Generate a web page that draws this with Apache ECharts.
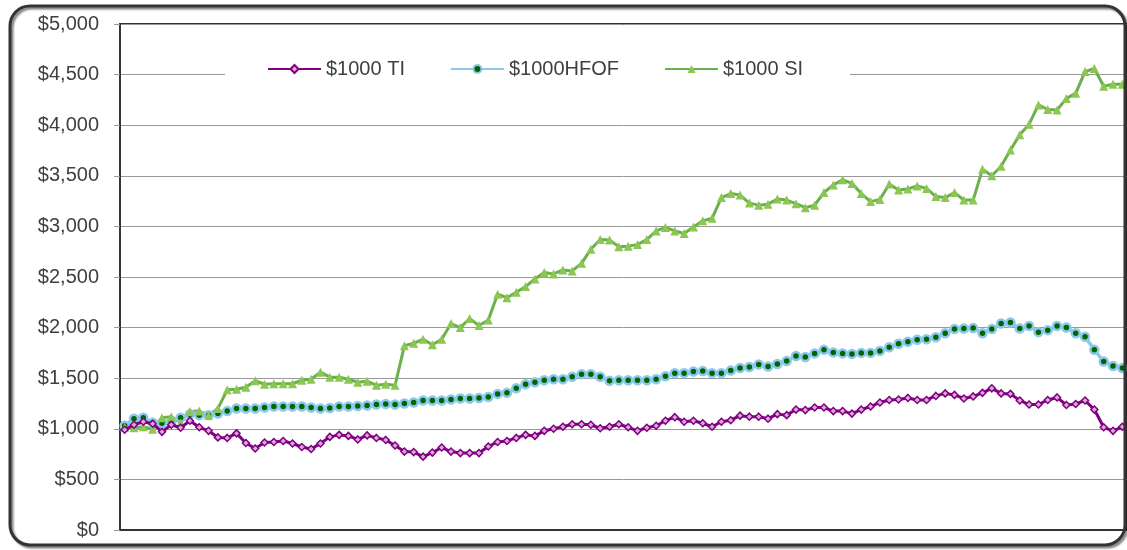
<!DOCTYPE html>
<html lang="en">
<head>
<meta charset="UTF-8">
<title>$1000 growth</title>
<script src="https://cdn.jsdelivr.net/npm/echarts@6.0.0/dist/echarts.min.js"></script>
<style>
  html, body { margin: 0; padding: 0; background: #fff; }
  #chart { width: 1127px; height: 550px; }
</style>
</head>
<body>
<div id="chart"></div>
<script>
// growth of $1000 per period
const seriesNames = ['$1000 TI', '$1000HFOF', '$1000 SI'];

const tiValues = [
  990, 1040, 1070, 1050, 970, 1040, 1010, 1080, 1015, 980, 915, 910, 955, 860, 805, 865, 870, 880, 855, 820, 800, 855, 920, 940, 930, 895, 935, 910, 890, 835, 775,
  770, 725, 765, 815, 775, 760, 760, 760, 825, 870, 880, 910, 940, 930, 980, 1000, 1020, 1045, 1045, 1040, 1005, 1020, 1045, 1015, 980, 1010, 1030, 1080, 1115, 1070, 1080,
  1055, 1020, 1070, 1085, 1130, 1120, 1120, 1100, 1145, 1135, 1190, 1185, 1210, 1210, 1175, 1175, 1150, 1190, 1220, 1260, 1285, 1290, 1305, 1285, 1285, 1325, 1350, 1335, 1300, 1320, 1355, 1400,
  1350, 1345, 1280, 1240, 1240, 1285, 1310, 1235, 1245, 1280, 1190, 1015, 980, 1020
];

const hfofValues = [
  1030, 1100, 1110, 1060, 1055, 1070, 1110, 1145, 1135, 1135, 1150, 1175, 1200, 1200, 1200, 1210, 1220, 1220, 1220, 1220, 1210, 1200, 1205, 1220, 1220, 1225, 1230, 1240, 1245, 1240, 1250,
  1260, 1280, 1280, 1280, 1290, 1300, 1300, 1305, 1315, 1345, 1355, 1400, 1440, 1460, 1480, 1490, 1490, 1515, 1540, 1540, 1515, 1475, 1480, 1480, 1480, 1480, 1490, 1520, 1550, 1550, 1565,
  1570, 1550, 1550, 1575, 1600, 1610, 1635, 1615, 1640, 1670, 1720, 1710, 1745, 1780, 1755, 1745, 1740, 1750, 1750, 1770, 1805, 1840, 1860, 1880, 1885, 1905, 1945, 1985, 1990, 1995, 1945, 1985,
  2040, 2050, 1990, 2015, 1955, 1975, 2015, 2000, 1945, 1910, 1780, 1665, 1620, 1600
];

const siValues = [
  1015, 1010, 1020, 995, 1110, 1120, 1060, 1170, 1175, 1135, 1200, 1385, 1390, 1410, 1475, 1440, 1445, 1445, 1445, 1480, 1490, 1560, 1510, 1510, 1490, 1460, 1470, 1430, 1440, 1430, 1820, 1845, 1885, 1830, 1885, 2040,
  2000, 2090, 2020, 2075, 2330, 2295, 2350, 2405, 2480, 2545, 2530, 2570, 2560, 2635, 2775, 2870, 2865, 2800, 2805, 2820, 2870, 2955, 2990, 2955, 2930, 2995, 3055, 3080, 3285, 3325, 3310, 3230, 3210, 3220, 3270, 3260,
  3225, 3185, 3210, 3335, 3410, 3460, 3425, 3325, 3245, 3265, 3420, 3360, 3370, 3400, 3375, 3295, 3285, 3335, 3260, 3260, 3565, 3500, 3595, 3755, 3905, 4010, 4200, 4155, 4150, 4265, 4315, 4530, 4560, 4385, 4405, 4405
];

// periods have no labels on the chart
const periods = tiValues.map((v, i) => String(i + 1));

const chart = echarts.init(document.getElementById('chart'));

const option = {
  animation: false,
  textStyle: { fontFamily: '"Liberation Sans", Arial, sans-serif' },
  graphic: [{
    type: 'rect',
    shape: { x: 10, y: 6, width: 1115, height: 539, r: 20 },
    style: {
      fill: 'none', stroke: '#333', lineWidth: 3,
      shadowColor: 'rgba(0,0,0,0.5)', shadowOffsetX: 2, shadowOffsetY: 2, shadowBlur: 2
    },
    z: 100
  }],
  grid: {
    left: 120, top: 24, width: 1008, height: 506,
    show: true, borderColor: '#333', borderWidth: 2
  },
  legend: {
    data: seriesNames,
    left: 225, top: 55,
    padding: [4, 47, 4, 42],
    backgroundColor: '#fff',
    itemWidth: 53, itemHeight: 10, itemGap: 45,
    textStyle: { fontSize: 20, color: '#404040', lineHeight: 20 }
  },
  xAxis: {
    type: 'category',
    data: periods,
    boundaryGap: true,
    axisLine: { lineStyle: { color: '#333', width: 2 } },
    axisTick: { show: false },
    axisLabel: { show: false },
    splitLine: { show: false }
  },
  yAxis: {
    type: 'value',
    min: 0, max: 5000, interval: 500,
    axisLine: { show: true, lineStyle: { color: '#333', width: 2 } },
    axisTick: { show: true, length: 6, lineStyle: { color: '#999' } },
    axisLabel: {
      fontSize: 20, color: '#404040', margin: 21,
      formatter: v => '$' + v.toLocaleString('en-US')
    },
    splitLine: { lineStyle: { color: '#999', width: 1 } }
  },
  series: [
    {
      name: seriesNames[0],
      type: 'line',
      data: tiValues,
      showAllSymbol: true,
      symbol: 'diamond', symbolSize: 7,
      lineStyle: { color: '#800080', width: 3 },
      itemStyle: { color: '#d8a8d8', borderColor: '#800080', borderWidth: 1.5 },
      z: 3
    },
    {
      name: seriesNames[1],
      type: 'line',
      data: hfofValues,
      showAllSymbol: true,
      symbol: 'circle', symbolSize: 8,
      lineStyle: { color: '#8cc8ec', width: 3.5 },
      itemStyle: { color: '#006400', borderColor: '#8cc8ec', borderWidth: 2.5 },
      z: 2
    },
    {
      name: seriesNames[2],
      type: 'line',
      data: siValues,
      showAllSymbol: true,
      symbol: 'triangle', symbolSize: 9,
      lineStyle: { color: '#6ab04c', width: 3 },
      itemStyle: { color: '#8cc653', borderColor: '#8cc653', borderWidth: 0 },
      z: 2
    }
  ]
};

chart.setOption(option);
</script>
</body>
</html>
